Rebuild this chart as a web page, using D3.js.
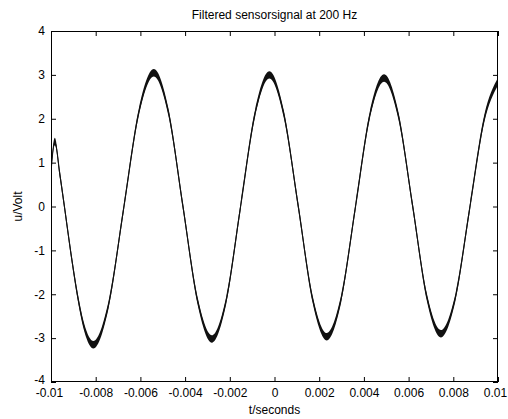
<!DOCTYPE html>
<html><head><meta charset="utf-8">
<script src="https://cdn.jsdelivr.net/npm/d3@7"></script>
<style>
body{margin:0;background:#fff}
text{font-family:"Liberation Sans",Arial,sans-serif;fill:#000}
</style>
</head><body><svg id="c" width="508" height="419"></svg>
<script>
const title = "Filtered sensorsignal at 200 Hz";
const xLabel = "t/seconds";
const yLabel = "u/Volt";
const xTicks = [-0.01,-0.008,-0.006,-0.004,-0.002,0,0.002,0.004,0.006,0.008,0.01];
const xTickLabels = ["-0.01","-0.008","-0.006","-0.004","-0.002","0","0.002","0.004","0.006","0.008","0.01"];
const yTicks = [-4,-3,-2,-1,0,1,2,3,4];
const yTickLabels = ["-4","-3","-2","-1","0","1","2","3","4"];

// sampled points of the filtered signal (seconds, volts)
const time = [
  -0.01, -0.00983, -0.0096, -0.0094, -0.0091, -0.0088, -0.0085, -0.0081,
  -0.007425, -0.00675, -0.006075, -0.0054,
  -0.00475, -0.0041, -0.00345, -0.0028,
  -0.00216, -0.00152, -0.00087, -0.00023,
  0.00041, 0.00106, 0.0017, 0.00234,
  0.00298, 0.00362, 0.00426, 0.0049,
  0.00554, 0.00618, 0.00681, 0.00745,
  0.0081, 0.00874, 0.00939, 0.01
];
const voltage = [
  0.79, 1.48, 0.72, 0.0, -1.1, -2.07, -2.78, -3.15,
  -2.24, -0.05, 2.14, 3.05,
  2.16, 0.015, -2.13, -3.02,
  -2.14, -0.01, 2.12, 3.0,
  2.12, 0.015, -2.10, -2.97,
  -2.11, -0.02, 2.07, 2.93,
  2.08, 0.015, -2.05, -2.9,
  -2.06, -0.025, 2.01, 2.85
];
// half-width of the measurement noise band (volts)
const noiseHalfWidth = 0.085;

const L = 51, R = 498, T = 31, B = 382;
const svg = d3.select("#c");
const x = d3.scaleLinear().domain([-0.01, 0.01]).range([L, R]);
const y = d3.scaleLinear().domain([-4, 4]).range([B, T]);

const data = time.map((t, i) => ({t, v: voltage[i]}));

svg.append("clipPath").attr("id","clip").append("rect")
  .attr("x", L).attr("y", T).attr("width", R - L).attr("height", B - T);

const g = svg.append("g").attr("clip-path","url(#clip)");
g.append("path").datum(data)
  .attr("d", d3.area().x(d => x(d.t)).y0(d => y(d.v - noiseHalfWidth)).y1(d => y(d.v + noiseHalfWidth)).curve(d3.curveMonotoneX))
  .attr("fill", "#111");
g.append("path").datum(data)
  .attr("d", d3.line().x(d => x(d.t)).y(d => y(d.v)).curve(d3.curveMonotoneX))
  .attr("fill", "none").attr("stroke", "#111").attr("stroke-width", 1.1);

// axes with inward ticks on all four sides
const fmtX = d => xTickLabels[xTicks.indexOf(d)];
const fmtY = d => yTickLabels[yTicks.indexOf(d)];
const ax = svg.append("g").attr("transform", `translate(0,${B})`)
  .call(d3.axisBottom(x).tickValues(xTicks).tickFormat(fmtX).tickSizeInner(-5).tickSizeOuter(0).tickPadding(6));
const ay = svg.append("g").attr("transform", `translate(${L},0)`)
  .call(d3.axisLeft(y).tickValues(yTicks).tickFormat(fmtY).tickSizeInner(-5).tickSizeOuter(0).tickPadding(6));
const at = svg.append("g").attr("transform", `translate(0,${T})`)
  .call(d3.axisTop(x).tickValues(xTicks).tickFormat("").tickSizeInner(-5).tickSizeOuter(0));
const ar = svg.append("g").attr("transform", `translate(${R},0)`)
  .call(d3.axisRight(y).tickValues(yTicks).tickFormat("").tickSizeInner(-5).tickSizeOuter(0));
[ax, ay, at, ar].forEach(a => {
  a.select(".domain").remove();
  a.selectAll("line").attr("stroke", "#000");
  a.selectAll("text").style("font-family", '"Liberation Sans",Arial,sans-serif').style("font-size", "12px").attr("fill", "#000");
});
// keep the edge labels inside the window, as in the reference
ax.selectAll(".tick text").filter((d, i, n) => i === n.length - 1).attr("x", -3);
ax.selectAll(".tick text").filter((d, i) => i === 0).attr("x", -2);
ay.selectAll(".tick text").filter((d, i) => i === 0).attr("y", -2);

svg.append("rect").attr("x", L + 0.5).attr("y", T + 0.5).attr("width", R - L - 1).attr("height", B - T - 1)
  .attr("fill", "none").attr("stroke", "#000").attr("stroke-width", 1);

svg.append("text").attr("x", (L + R) / 2).attr("y", 19).attr("text-anchor", "middle")
  .style("font-size", "12px").text(title);
svg.append("text").attr("x", (L + R) / 2).attr("y", 414).attr("text-anchor", "middle")
  .style("font-size", "12px").text(xLabel);
svg.append("text").attr("transform", `translate(22,${(T + B) / 2}) rotate(-90)`).attr("text-anchor", "middle")
  .style("font-size", "12px").text(yLabel);
</script>
</body></html>
